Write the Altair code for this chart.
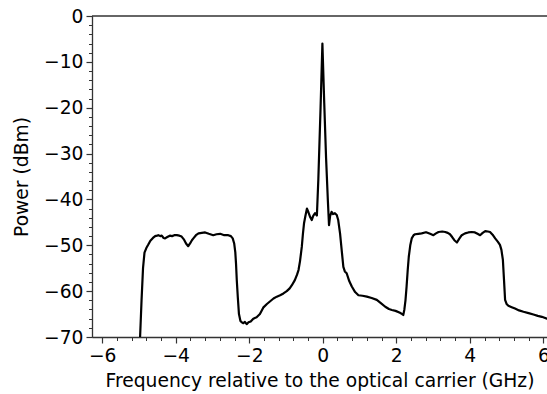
import altair as alt
import pandas as pd

freq = [-5.00, -4.97, -4.93, -4.89, -4.85, -4.80, -4.75, -4.69, -4.62, -4.56,
        -4.51, -4.47, -4.42, -4.38, -4.33, -4.29, -4.23, -4.16, -4.10, -4.04,
        -3.97, -3.90, -3.84, -3.78, -3.72, -3.66, -3.61, -3.56, -3.52, -3.45,
        -3.38, -3.29, -3.20, -3.10, -2.98, -2.89, -2.79, -2.68, -2.57, -2.50,
        -2.45, -2.41, -2.38, -2.36, -2.34, -2.31, -2.28, -2.24, -2.20, -2.16,
        -2.12, -2.07, -2.02, -1.96, -1.89, -1.80, -1.71, -1.62, -1.52, -1.43,
        -1.34, -1.25, -1.16, -1.07, -0.98, -0.90, -0.84, -0.76, -0.70, -0.66,
        -0.62, -0.57, -0.54, -0.51, -0.47, -0.43, -0.39, -0.34, -0.30, -0.26,
        -0.21, -0.18, -0.16, -0.12, -0.06, -0.01, 0.04, 0.09, 0.14, 0.17,
        0.20, 0.24, 0.28, 0.33, 0.38, 0.42, 0.47, 0.52, 0.56, 0.60,
        0.65, 0.72, 0.79, 0.88, 0.97, 1.08, 1.20, 1.33, 1.47, 1.58,
        1.70, 1.80, 1.88, 1.98, 2.10, 2.16, 2.19, 2.22, 2.25, 2.28,
        2.31, 2.34, 2.38, 2.42, 2.47, 2.51, 2.60, 2.69, 2.78, 2.83,
        2.92, 3.01, 3.08, 3.15, 3.25, 3.33, 3.40, 3.46, 3.52, 3.58,
        3.65, 3.71, 3.78, 3.87, 3.96, 4.05, 4.14, 4.21, 4.28, 4.35,
        4.42, 4.49, 4.55, 4.62, 4.69, 4.76, 4.82, 4.86, 4.90, 4.93,
        4.96, 5.00, 5.05, 5.14, 5.23, 5.34, 5.46, 5.60, 5.73, 5.85,
        5.96, 6.10, 6.25]

power = [-72.0, -70.0, -62.0, -55.0, -51.6, -50.6, -49.9, -49.0, -48.4, -48.0,
         -47.9, -47.8, -48.0, -47.9, -48.4, -48.5, -48.2, -47.9, -48.0, -47.8,
         -47.8, -47.9, -48.1, -48.7, -49.6, -50.2, -49.6, -48.9, -48.5, -47.8,
         -47.4, -47.3, -47.2, -47.5, -47.8, -47.6, -47.5, -47.8, -47.8, -48.0,
         -48.5, -49.6, -51.5, -54.0, -57.5, -61.5, -65.0, -66.5, -66.8, -67.0,
         -66.7, -67.2, -66.8, -66.6, -66.0, -65.7, -65.0, -63.6, -62.8, -62.2,
         -61.6, -61.2, -60.9, -60.5, -60.0, -59.4, -58.7, -57.6, -56.4, -55.4,
         -53.5, -50.3, -47.5, -45.2, -43.5, -42.0, -42.8, -43.9, -44.5, -43.6,
         -43.0, -43.3, -43.5, -35.5, -20.0, -6.0, -19.0, -31.0, -40.5, -45.6,
         -43.6, -42.7, -43.2, -43.0, -43.4, -44.5, -47.4, -51.5, -54.7, -55.7,
         -56.1, -57.8, -59.0, -60.2, -60.9, -61.0, -61.2, -61.5, -61.9, -62.6,
         -63.4, -63.9, -64.1, -64.3, -64.7, -65.0, -65.2, -64.0, -62.0, -59.0,
         -55.5, -52.5, -50.0, -48.5, -47.8, -47.6, -47.5, -47.4, -47.2, -47.2,
         -47.5, -47.8, -47.4, -47.1, -47.0, -47.1, -47.3, -47.6, -48.2, -48.9,
         -49.4, -48.6, -47.8, -47.4, -47.2, -47.1, -47.2, -47.5, -47.8, -47.3,
         -46.9, -47.0, -47.1, -47.7, -48.5, -49.2, -49.9, -51.0, -53.2, -57.5,
         -61.9, -62.8, -63.2, -63.5, -63.8, -64.2, -64.5, -64.8, -65.1, -65.4,
         -65.6, -66.0, -66.3]

x_major = [-6, -4, -2, 0, 2, 4, 6]
x_minor = [round(-6 + 0.4 * i, 1) for i in range(31)]
y_major = [0, -10, -20, -30, -40, -50, -60, -70]
y_minor = [-2 * i for i in range(36)]

x_title = "Frequency relative to the optical carrier (GHz)"
y_title = "Power (dBm)"

df = pd.DataFrame({"freq": freq, "power": power})
top = pd.DataFrame({"v": [0]})

FONT = "DejaVu Sans"
SPINE = "#333333"
FS = 18.7

xscale = alt.Scale(domain=[-6.278, 6.10], nice=False, zero=False)
yscale = alt.Scale(domain=[-70, 0], nice=False, zero=False)

common = dict(grid=False, tickColor=SPINE, tickWidth=1.2, domainColor=SPINE,
              domainWidth=1.3, labelFont=FONT, labelFontSize=FS,
              labelColor="black", titleFont=FONT, titleFontSize=FS,
              titleFontWeight="normal", titleColor="black")

line = alt.Chart(df).mark_line(color="black", strokeWidth=2.2, clip=True,
                               strokeJoin="round").encode(
    x=alt.X("freq:Q", scale=xscale,
            axis=alt.Axis(values=x_major, orient="bottom", title=x_title,
                          tickSize=6, labelPadding=3, titlePadding=7,
                          labelExpr="replace(datum.label, '-', '\u2212')",
                          domain=True, **common)),
    y=alt.Y("power:Q", scale=yscale,
            axis=alt.Axis(values=y_major, orient="left", title=y_title,
                          tickSize=6, labelPadding=3, titlePadding=12,
                          labelExpr="replace(datum.label, '-', '\u2212')",
                          domain=True, **common)),
)

minor = alt.Chart(df).mark_line(opacity=0).encode(
    x=alt.X("freq:Q", scale=xscale,
            axis=alt.Axis(values=x_minor, orient="bottom", title="",
                          labels=False, tickSize=3.5, domain=False,
                          grid=False, tickColor=SPINE, tickWidth=1)),
    y=alt.Y("power:Q", scale=yscale,
            axis=alt.Axis(values=y_minor, orient="left", title="",
                          labels=False, tickSize=3.5, domain=False,
                          grid=False, tickColor=SPINE, tickWidth=1)),
)

topline = alt.Chart(top).mark_rule(color=SPINE, strokeWidth=1.3).encode(
    y=alt.Y("v:Q", scale=yscale, axis=None)
)

chart = alt.layer(minor, line, topline).resolve_axis(
    x="independent", y="independent"
).properties(
    width=455, height=321,
    padding={"left": 92, "top": 16, "right": 0, "bottom": 57},
    autosize="none",
    background="white",
).configure_view(stroke=None)

chart.save("out.html", embed_options={"renderer": "svg", "actions": False})
